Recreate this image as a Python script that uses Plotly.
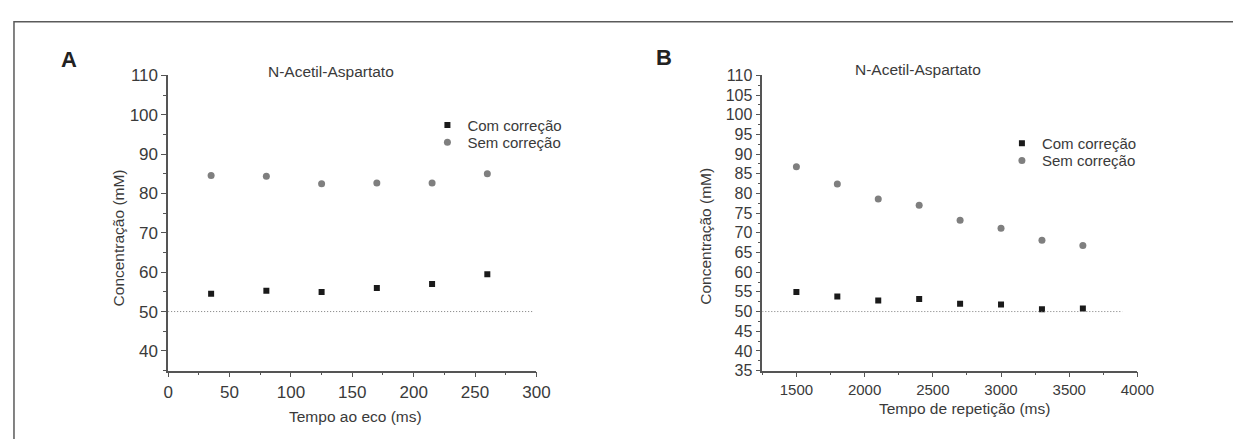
import plotly.graph_objects as go

# ---- data ----
te_ms = [35, 80, 125, 170, 215, 260]
te_com = [54.5, 55.3, 55.0, 56.0, 57.0, 59.5]
te_sem = [84.6, 84.4, 82.5, 82.7, 82.7, 85.0]

tr_ms = [1500, 1800, 2100, 2400, 2700, 3000, 3300, 3600]
tr_com = [55.0, 53.8, 52.8, 53.2, 52.0, 51.8, 50.6, 50.8]
tr_sem = [86.8, 82.4, 78.6, 77.0, 73.2, 71.2, 68.1, 66.8]

ref_value = 50
series_names = ["Com correção", "Sem correção"]
panel_title = "N-Acetil-Aspartato"
panel_labels = ["A", "B"]
x_titles = ["Tempo ao eco (ms)", "Tempo de repetição (ms)"]
y_title = "Concentração (mM)"

# ---- layout helpers ----
# the page body keeps its default 8px margin, so the figure is 16px smaller
# than the window and sits 8px in from the top-left corner.
PAGE_OFF = 8
W, H = 1241 - 2 * PAGE_OFF, 447 - 2 * PAGE_OFF
def px(x):
    return (x - PAGE_OFF) / W
def py(y):
    return (H - (y - PAGE_OFF)) / H

FONT = "Liberation Sans, Arial, sans-serif"
TXT = "#3a3a3a"
AX = "#555555"
SQ = "#1a1a1a"
CI = "#7f7f7f"

fig = go.Figure()

fig.add_trace(go.Scatter(x=te_ms, y=te_com, mode="markers", name=series_names[0],
                         marker=dict(symbol="square", size=6, color=SQ),
                         xaxis="x", yaxis="y", legend="legend", showlegend=True))
fig.add_trace(go.Scatter(x=te_ms, y=te_sem, mode="markers", name=series_names[1],
                         marker=dict(symbol="circle", size=7, color=CI),
                         xaxis="x", yaxis="y", legend="legend2", showlegend=True))
fig.add_trace(go.Scatter(x=tr_ms, y=tr_com, mode="markers", name=series_names[0],
                         marker=dict(symbol="square", size=6, color=SQ),
                         xaxis="x2", yaxis="y2", legend="legend3", showlegend=True))
fig.add_trace(go.Scatter(x=tr_ms, y=tr_sem, mode="markers", name=series_names[1],
                         marker=dict(symbol="circle", size=7, color=CI),
                         xaxis="x2", yaxis="y2", legend="legend4", showlegend=True))

ydom = [py(377), py(69)]
common_ax = dict(showline=True, linecolor=AX, linewidth=1.5, ticks="outside",
                 ticklen=5, tickcolor=AX, tickwidth=1.2, showgrid=False,
                 zeroline=False, fixedrange=True)

fig.update_layout(
    width=W, height=H,
    margin=dict(l=0, r=0, t=0, b=0),
    paper_bgcolor="white", plot_bgcolor="white",
    showlegend=True,
    font=dict(family=FONT, size=15, color=TXT),
    xaxis=dict(domain=[px(166), px(541)], range=[0, 300], dtick=50, tick0=0,
               anchor="y", tickfont=dict(size=17, color=TXT),
               minor=dict(ticks="outside", ticklen=3, dtick=25, tick0=0, tickcolor=AX),
               **common_ax),
    yaxis=dict(domain=ydom, range=[35, 110], dtick=10, tick0=0, anchor="x",
               tickfont=dict(size=17, color=TXT),
               minor=dict(ticks="outside", ticklen=3, dtick=5, tick0=0, tickcolor=AX),
               **common_ax),
    xaxis2=dict(domain=[px(771), px(1153)], range=[1250, 4000], dtick=500, tick0=0,
                anchor="y2", tickfont=dict(size=15, color=TXT),
                minor=dict(ticks="outside", ticklen=3, dtick=250, tick0=0, tickcolor=AX),
                **common_ax),
    yaxis2=dict(domain=ydom, range=[35, 110], dtick=5, tick0=0, anchor="x2",
                tickfont=dict(size=16, color=TXT),
                minor=dict(ticks="outside", ticklen=3, dtick=2.5, tick0=0, tickcolor=AX),
                **common_ax),
)

leg_common = dict(bgcolor="rgba(0,0,0,0)", font=dict(family=FONT, size=15, color=TXT),
                  xanchor="left", yanchor="middle", itemwidth=30, borderwidth=0)
fig.update_layout(
    legend=dict(x=px(446 - 16), y=py(121), **leg_common),
    legend2=dict(x=px(446 - 16), y=py(139), **leg_common),
    legend3=dict(x=px(1031 - 16), y=py(140), **leg_common),
    legend4=dict(x=px(1031 - 16), y=py(158), **leg_common),
)

# reference lines at 50 mM
fig.add_shape(type="line", xref="x", yref="y", x0=0, x1=298, y0=ref_value, y1=ref_value,
              line=dict(color="#7a7a7a", width=1, dash="1px,2px"))
fig.add_shape(type="line", xref="x2", yref="y2", x0=1250, x1=3890, y0=ref_value, y1=ref_value,
              line=dict(color="#7a7a7a", width=1, dash="1px,2px"))

# frame (top and left edges visible)
fig.add_shape(type="rect", xref="paper", yref="paper", x0=1.0 / W, x1=1.05, y0=-0.05, y1=py(13),
              line=dict(color="#5a5a5a", width=1.5), layer="below")

ann = []
ann.append(dict(text="<b>%s</b>" % panel_labels[0], x=px(65), y=py(52), font=dict(size=22, color="#222")))
ann.append(dict(text="<b>%s</b>" % panel_labels[1], x=px(671), y=py(50), font=dict(size=22, color="#222")))
ann.append(dict(text=panel_title, x=px(332), y=py(65), font=dict(size=15.5)))
ann.append(dict(text=panel_title, x=px(930), y=py(63), font=dict(size=15.5)))
ann.append(dict(text=x_titles[0], x=px(357), y=py(425), font=dict(size=15.5)))
ann.append(dict(text=x_titles[1], x=px(977), y=py(417), font=dict(size=15.5)))
ann.append(dict(text=y_title, x=px(115), y=py(239), textangle=-90, font=dict(size=15.5)))
ann.append(dict(text=y_title, x=px(713), y=py(237), textangle=-90, font=dict(size=15.5)))
for a in ann:
    a.update(xref="paper", yref="paper", showarrow=False, xanchor="center", yanchor="middle")
fig.update_layout(annotations=ann)

fig.write_html("out.html", config={"displayModeBar": False})
